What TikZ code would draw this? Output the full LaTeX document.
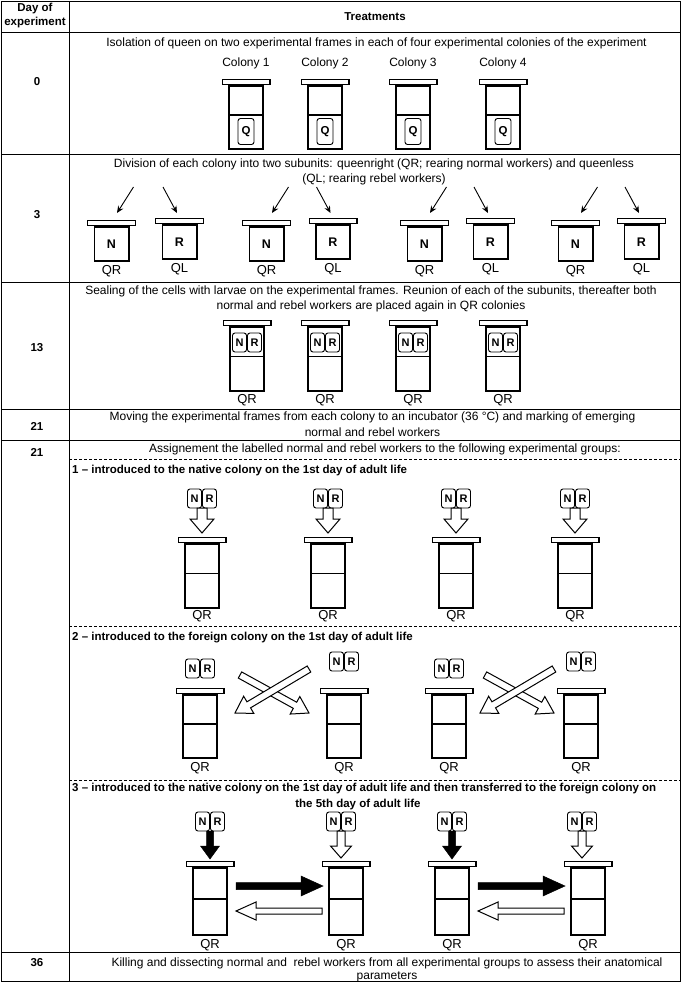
\documentclass[tikz,border=0pt]{standalone}
\usepackage{fontspec}
\setmainfont{Liberation Sans}
\usetikzlibrary{arrows.meta,calc}

\tikzset{
  celltext/.style={font=\fontsize{12}{14}\selectfont, inner sep=0pt},
  daylabel/.style={font=\fontsize{11.5}{14}\selectfont\bfseries, inner sep=0pt},
  grouptitle/.style={font=\fontsize{11.5}{14}\selectfont\bfseries, inner sep=0pt},
  unitlabel/.style={font=\fontsize{13}{14}\selectfont, inner sep=0pt},
  tablerule/.style={line width=0.9pt},
  dashrule/.style={line width=0.8pt, dash pattern=on 3pt off 2pt},
  hivebar/.style={draw, line width=1.4pt, fill=white, minimum width=47.6pt, minimum height=4.6pt, inner sep=0pt},
  hivebody/.style={draw, line width=1.7pt, minimum width=34.3pt, inner sep=0pt, anchor=north, font=\fontsize{12.5}{13}\selectfont\bfseries},
  comb/.style={draw, line width=0.9pt, rounded corners=2.5pt, minimum width=14pt, minimum height=19pt, inner sep=0pt, font=\fontsize{11}{12}\selectfont\bfseries},
  queen/.style={comb, minimum width=16pt, minimum height=26pt, font=\fontsize{11.5}{12}\selectfont\bfseries},
  thinarrow/.style={line width=0.9pt, -{Stealth[length=7pt,width=6pt]}},
  openarrow/.style={draw, line width=1pt, fill=white, line join=miter},
  blackarrow/.style={draw, line width=0.5pt, fill=black, line join=miter},
}

% frame with top bar: name, x, top of bar, body height
\newcommand{\hive}[4]{%
  \node[hivebody, minimum height=#4*1pt-1.7pt] (#1) at (#2,#3+6) {};
  \node[hivebar] (#1-top) at (#2,#3+3) {};
  \draw[line width=1.7pt] ([yshift=-0.46*#4*1pt]#1.north west) -- ([yshift=-0.46*#4*1pt]#1.north east);
}
% small subunit frame: name, x, top of bar, letter
\newcommand{\subunit}[4]{%
  \node[hivebody, minimum height=34pt] (#1) at (#2,#3+6) {#4};
  \node[hivebar] (#1-top) at (#2,#3+3) {};
}
% pair of marked workers: name, x, top
\newcommand{\workers}[3]{%
  \node[comb] (#1-N) at (#2-7.5,#3+9.5) {N};
  \node[comb] (#1-R) at (#2+7.5,#3+9.5) {R};
  \coordinate (#1) at (#2,#3+19);
}
% block arrow: [style] from, to, half shaft, half head, head length
\newcommand{\blockarrow}[6][openarrow]{%
  \coordinate (bh) at ($(#3)!#6!(#2)$);
  \draw[#1] ($(#2)!#4!90:(#3)$) -- ($(bh)!#4!90:(#3)$) -- ($(bh)!#5!90:(#3)$) -- (#3)
    -- ($(bh)!#5!-90:(#3)$) -- ($(bh)!#4!-90:(#3)$) -- ($(#2)!#4!-90:(#3)$) -- cycle;
}

\begin{document}
\begin{tikzpicture}[x=1pt,y=-1pt]
  \useasboundingbox (0,0) rectangle (685,984);

  % table
  \draw[tablerule] (1,1) rectangle (680,981);
  \draw[tablerule] (69,1) -- (69,981);
  \foreach \y in {32,154,282,409,440,952}
    \draw[tablerule] (1,\y) -- (680,\y);
  \foreach \y in {459,626,780}
    \draw[dashrule] (69,\y) -- (680,\y);

  \node[daylabel, align=center] (dayhead) at (35,16) {Day of\\experiment};
  \node[daylabel] (treathead) at (375,17) {Treatments};
  \node[daylabel] (day0) at (37,82) {0};
  \node[daylabel] (day3) at (37,215) {3};
  \node[daylabel] (day13) at (37,348) {13};
  \node[daylabel] (day21a) at (37,426) {21};
  \node[daylabel] (day21b) at (37,452) {21};
  \node[daylabel] (day36) at (37,963) {36};

  % day 0
  \node[celltext] (isolation) at (376.5,43) {Isolation of queen on two experimental frames in each of four experimental colonies of the experiment};
  \foreach \x [count=\i] in {246,325,413,503} {
    \node[celltext] (colony\i) at (\x,63) {Colony \i};
    \hive{c\i}{\x}{79}{65}
    \node[queen] (queen\i) at (\x,131.5) {Q};
  }

  % day 3
  \node[celltext] (division1) at (374,164) {Division of each colony into two subunits: queenright (QR; rearing normal workers) and queenless};
  \node[celltext] (division2) at (374,179) {(QL; rearing rebel workers)};
  \foreach \x [count=\i] in {111.5,266.5,424.5,575.5} {
    \subunit{qr\i}{\x}{220}{N}
    \node[unitlabel] (qr\i-lab) at (\x,271) {QR};
    \coordinate (qr\i-from) at (\x+22,187);
    \coordinate (qr\i-to) at (\x+5.5,213);
    \draw[thinarrow] (qr\i-from) -- (qr\i-to);
  }
  \foreach \x [count=\i] in {179.5,333,490.5,641.5} {
    \subunit{ql\i}{\x}{218}{R}
    \node[unitlabel] (ql\i-lab) at (\x,269) {QL};
    \coordinate (ql\i-from) at (\x-16.5,187);
    \coordinate (ql\i-to) at (\x-2.5,213);
    \draw[thinarrow] (ql\i-from) -- (ql\i-to);
  }

  % day 13
  \node[celltext] (sealing1) at (371,291) {Sealing of the cells with larvae on the experimental frames. Reunion of each of the subunits, thereafter both};
  \node[celltext] (sealing2) at (371,306) {normal and rebel workers are placed again in QR colonies};
  \foreach \x [count=\i] in {247,325,413,503} {
    \hive{r\i}{\x}{320}{66}
    \workers{rw\i}{\x}{333}
    \node[unitlabel] (r\i-lab) at (\x,400) {QR};
  }

  % day 21
  \node[celltext] (moving1) at (372.5,417) {Moving the experimental frames from each colony to an incubator (36 °C) and marking of emerging};
  \node[celltext] (moving2) at (372.5,432) {normal and rebel workers};
  \node[celltext] (assign) at (385,449) {Assignement the labelled normal and rebel workers to the following experimental groups:};

  % group 1
  \node[grouptitle, anchor=west] (group1) at (72,471) {1 -- introduced to the native colony on the 1st day of adult life};
  \foreach \x [count=\i] in {202,328,456,575} {
    \workers{aw\i}{\x}{489}
    \hive{a\i}{\x}{537}{66}
    \coordinate (a\i-in) at (\x,533);
    \blockarrow{aw\i}{a\i-in}{5pt}{12pt}{14pt}
    \node[unitlabel] (a\i-lab) at (\x,616) {QR};
  }

  % group 2
  \node[grouptitle, anchor=west] (group2) at (72,638) {2 -- introduced to the foreign colony on the 1st day of adult life};
  \foreach \x/\t [count=\i] in {200/659,344/652,449/659,581/652} {
    \workers{bw\i}{\x}{\t}
    \hive{b\i}{\x}{688}{65}
    \node[unitlabel] (b\i-lab) at (\x,768) {QR};
  }
  \foreach \m [count=\i] in {272,517} {
    \coordinate (xa\i-from) at (\m-32,675);
    \coordinate (xa\i-to) at (\m+37,713);
    \coordinate (xb\i-from) at (\m+37,669);
    \coordinate (xb\i-to) at (\m-37,713);
    \blockarrow{xa\i-from}{xa\i-to}{3.5pt}{10pt}{16pt}
    \blockarrow{xb\i-from}{xb\i-to}{3.5pt}{10pt}{16pt}
  }

  % group 3
  \node[grouptitle, anchor=west] (group3a) at (72,789) {3 -- introduced to the native colony on the 1st day of adult life and then transferred to the foreign colony on};
  \node[grouptitle] (group3b) at (358,805) {the 5th day of adult life};
  \foreach \x/\w [count=\i] in {210/210,346/341,452/452,588/582} {
    \workers{tw\i}{\w}{812}
    \hive{t\i}{\x}{861}{69}
    \node[unitlabel] (t\i-lab) at (\x,945) {QR};
  }
  \coordinate (td1) at (210,859);
  \coordinate (td2) at (341,858);
  \coordinate (td3) at (452,859);
  \coordinate (td4) at (582,858);
  \blockarrow[blackarrow]{tw1}{td1}{3.5pt}{9.5pt}{13pt}
  \blockarrow{tw2}{td2}{4pt}{10.5pt}{12pt}
  \blockarrow[blackarrow]{tw3}{td3}{3.5pt}{9.5pt}{13pt}
  \blockarrow{tw4}{td4}{4pt}{10.5pt}{12pt}
  \foreach \l/\r [count=\i] in {210/346,452/588} {
    \coordinate (go\i-from) at (\l+26,886);
    \coordinate (go\i-to) at (\r-23,886);
    \coordinate (back\i-from) at (\r-24,911);
    \coordinate (back\i-to) at (\l+26,911);
    \blockarrow[blackarrow]{go\i-from}{go\i-to}{3.5pt}{10pt}{22pt}
    \blockarrow{back\i-from}{back\i-to}{3pt}{9pt}{20pt}
  }

  % day 36
  \node[celltext] (killing1) at (387,963) {Killing and dissecting normal and\ \ rebel workers from all experimental groups to assess their anatomical};
  \node[celltext] (killing2) at (387,977) {parameters};
\end{tikzpicture}
\end{document}
